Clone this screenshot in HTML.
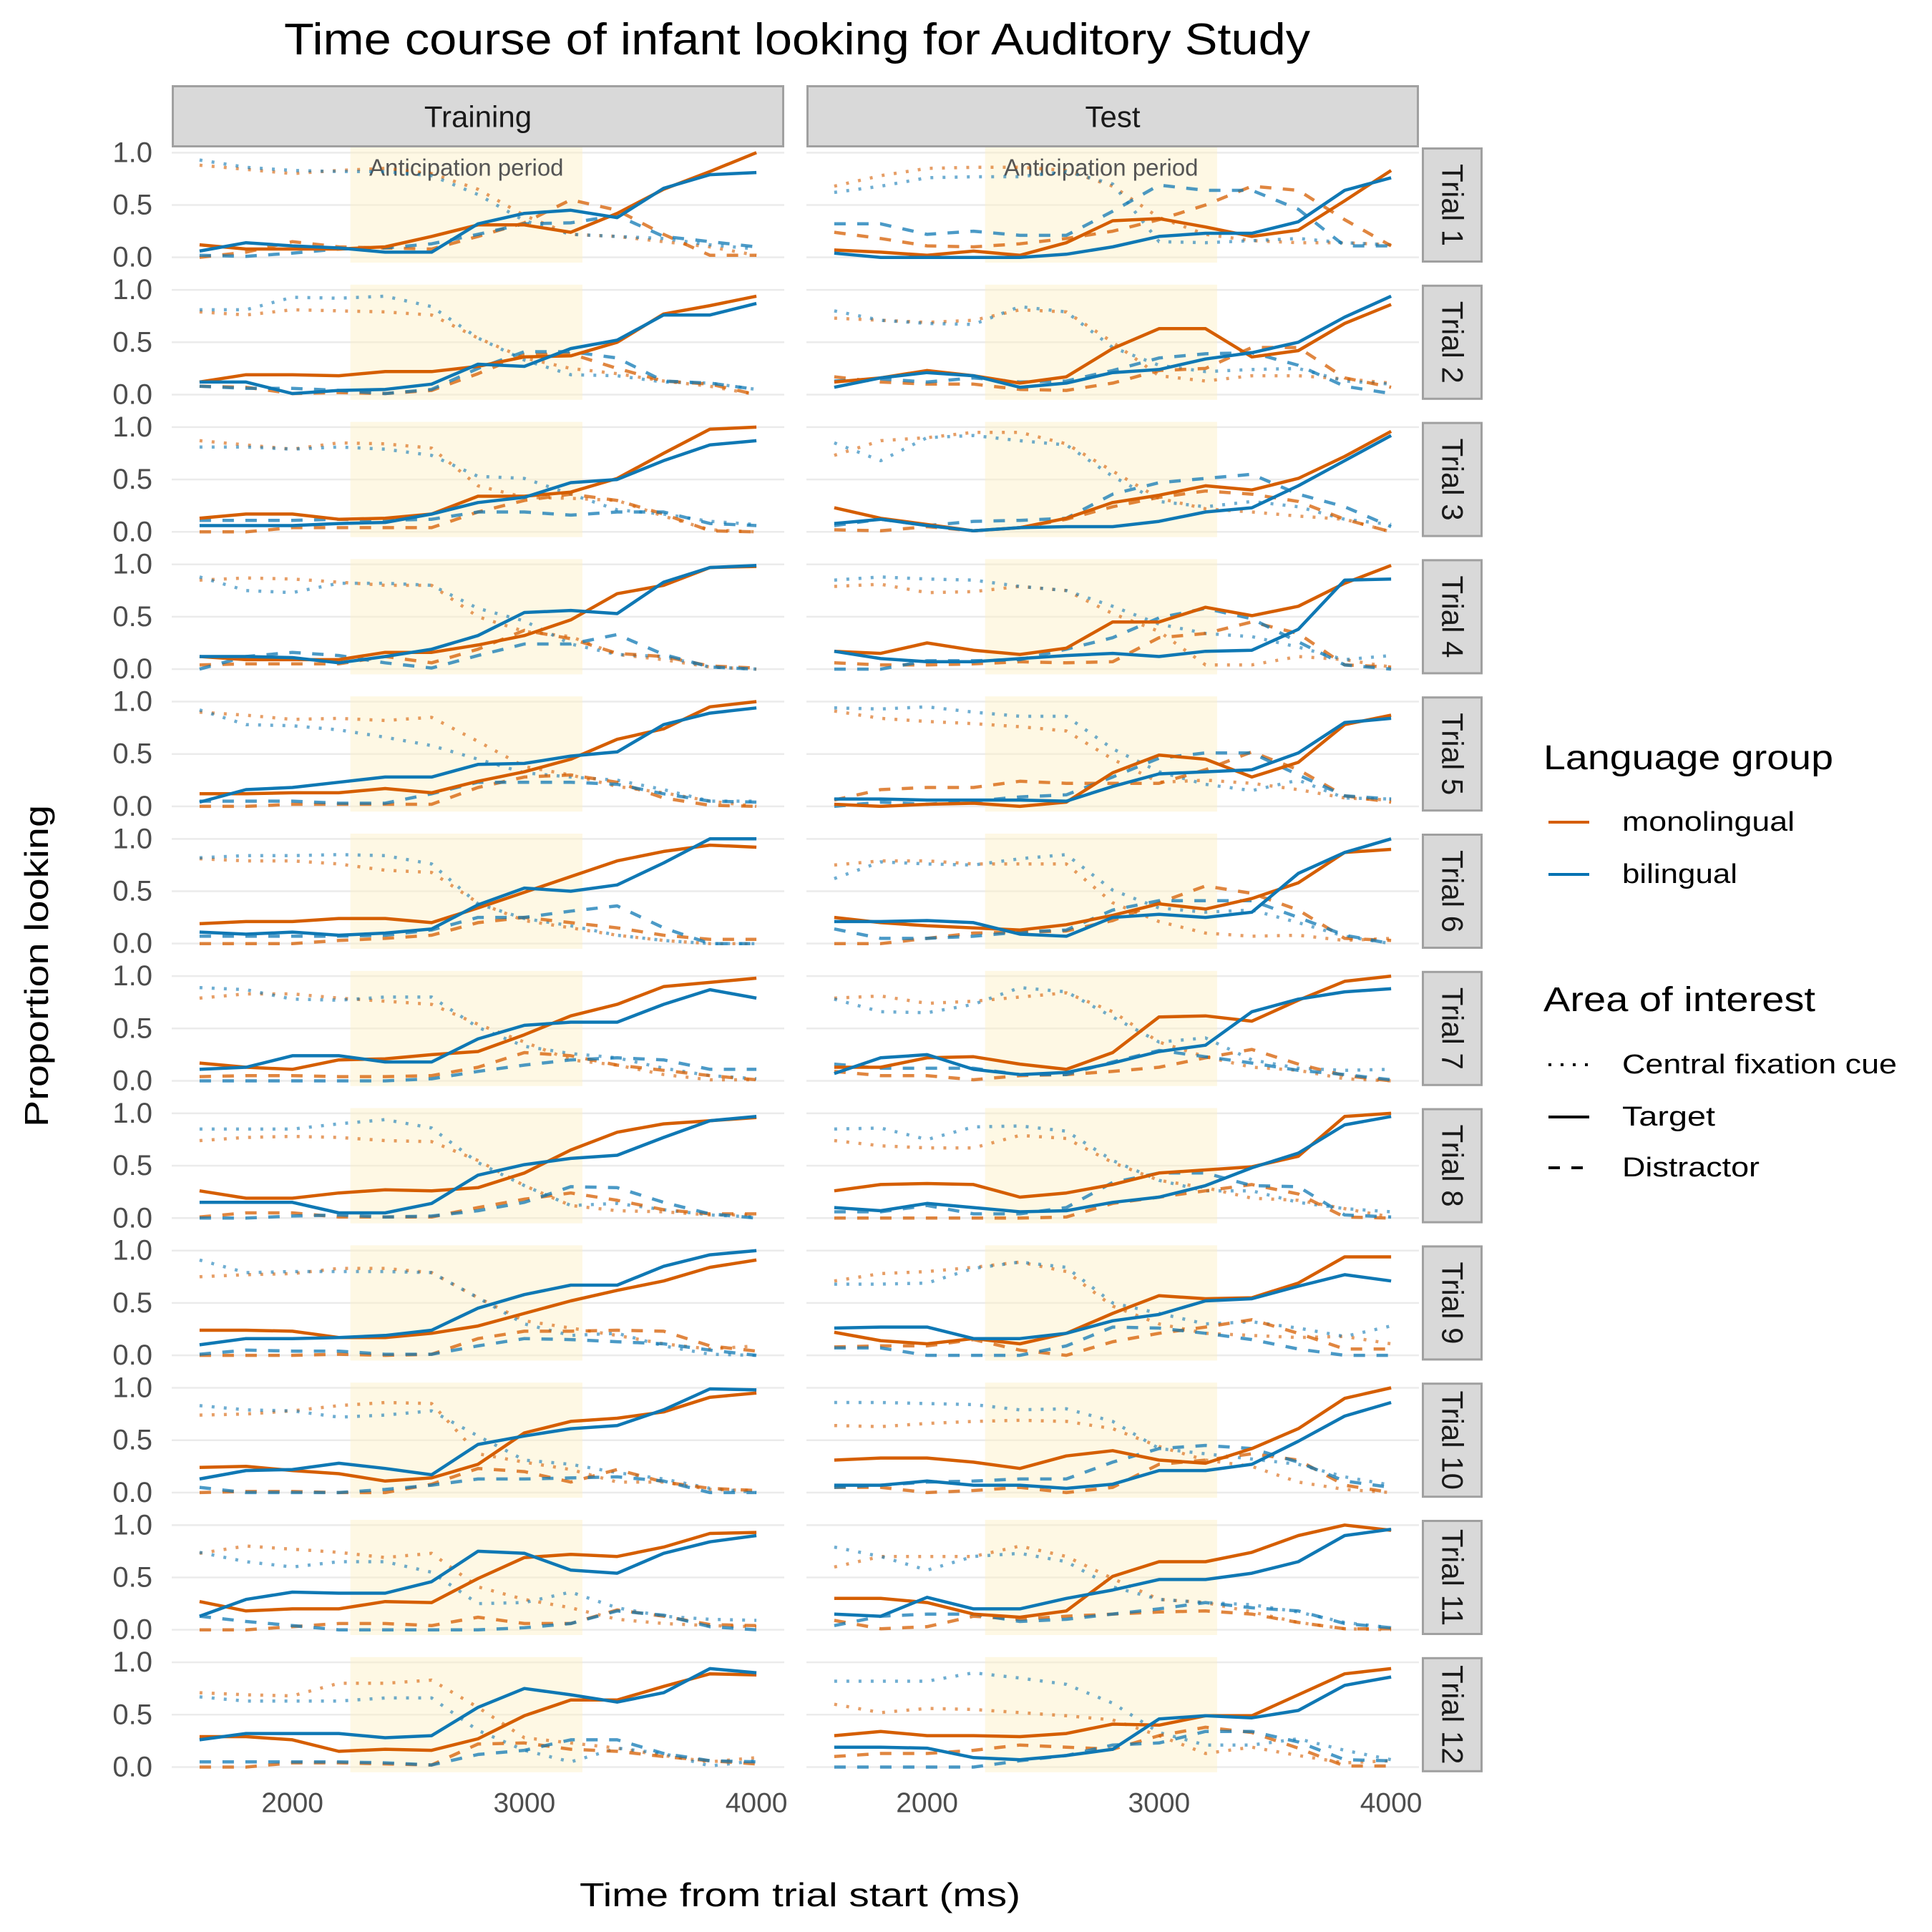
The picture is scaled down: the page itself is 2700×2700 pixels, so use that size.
<!DOCTYPE html>
<html><head><meta charset="utf-8"><title>Time course of infant looking</title>
<style>html,body{margin:0;padding:0;background:#fff}svg{display:block}</style>
</head><body>
<svg id="chart" xmlns="http://www.w3.org/2000/svg" width="2700" height="2700" viewBox="0 0 2700 2700" font-family="Liberation Sans, Arial, sans-serif">
<rect width="2700" height="2700" fill="#fff"/>
<text x="1114" y="76" font-size="62" text-anchor="middle" fill="#000" textLength="1434" lengthAdjust="spacingAndGlyphs">Time course of infant looking for Auditory Study</text>
<text transform="translate(67,1350) rotate(-90)" font-size="46" text-anchor="middle" fill="#000" textLength="450" lengthAdjust="spacingAndGlyphs">Proportion looking</text>
<text x="1118" y="2664" font-size="46" text-anchor="middle" fill="#000" textLength="616" lengthAdjust="spacingAndGlyphs">Time from trial start (ms)</text>
<g id="panels"></g>
<g>
<text x="2157" y="1075" font-size="48" fill="#000" textLength="405" lengthAdjust="spacingAndGlyphs">Language group</text>
<line x1="2164" y1="1149" x2="2221" y2="1149" stroke="#D55E00" stroke-width="4"/>
<text x="2267" y="1149" font-size="38" dominant-baseline="central" fill="#000" textLength="241" lengthAdjust="spacingAndGlyphs">monolingual</text>
<line x1="2164" y1="1222" x2="2221" y2="1222" stroke="#0072B2" stroke-width="4"/>
<text x="2267" y="1222" font-size="38" dominant-baseline="central" fill="#000" textLength="161" lengthAdjust="spacingAndGlyphs">bilingual</text>
<text x="2157" y="1413" font-size="48" fill="#000" textLength="380" lengthAdjust="spacingAndGlyphs">Area of interest</text>
<line x1="2164" y1="1488" x2="2221" y2="1488" stroke="#000" stroke-width="4" stroke-dasharray="4 13"/>
<text x="2267" y="1488" font-size="38" dominant-baseline="central" fill="#000" textLength="384" lengthAdjust="spacingAndGlyphs">Central fixation cue</text>
<line x1="2164" y1="1561" x2="2221" y2="1561" stroke="#000" stroke-width="4"/>
<text x="2267" y="1561" font-size="38" dominant-baseline="central" fill="#000" textLength="130" lengthAdjust="spacingAndGlyphs">Target</text>
<line x1="2164" y1="1632" x2="2221" y2="1632" stroke="#000" stroke-width="4" stroke-dasharray="16 16"/>
<text x="2267" y="1632" font-size="38" dominant-baseline="central" fill="#000" textLength="192" lengthAdjust="spacingAndGlyphs">Distractor</text>
</g>
</svg>
<script>
const times = [1600,1800,2000,2200,2400,2600,2800,3000,3200,3400,3600,3800,4000];
const xTicks = [2000,3000,4000];
const xTickLabels = ["2000","3000","4000"];
const yTicks = [0,0.5,1];
const yTickLabels = ["0.0","0.5","1.0"];
const phases = ["Training","Test"];
const trialLabels = ["Trial 1","Trial 2","Trial 3","Trial 4","Trial 5","Trial 6","Trial 7","Trial 8","Trial 9","Trial 10","Trial 11","Trial 12"];
const anticipationStart = 2250;
const anticipationEnd = 3250;

const trainMonoT = [
[.12,.08,.08,.08,.1,.2,.31,.31,.24,.42,.65,.82,1.0],
[.12,.19,.19,.18,.22,.22,.27,.36,.37,.5,.77,.85,.94],
[.13,.17,.17,.12,.13,.17,.34,.34,.38,.51,.75,.98,1.0],
[.12,.09,.09,.09,.16,.16,.23,.32,.47,.72,.8,.97,.98],
[.12,.12,.13,.13,.17,.13,.24,.33,.45,.64,.74,.95,1.0],
[.19,.21,.21,.24,.24,.2,.34,.49,.64,.79,.88,.94,.92],
[.17,.13,.11,.2,.21,.25,.28,.44,.62,.73,.9,.94,.98],
[.26,.19,.19,.24,.27,.26,.29,.43,.65,.82,.9,.93,.96],
[.24,.24,.23,.17,.17,.21,.28,.4,.52,.62,.71,.84,.91],
[.24,.25,.21,.18,.11,.14,.27,.57,.68,.71,.77,.91,.95],
[.27,.18,.2,.2,.27,.26,.49,.69,.72,.7,.79,.92,.93],
[.29,.29,.26,.15,.17,.16,.27,.49,.64,.64,.77,.89,.88]];
const trainBiT = [
[.06,.14,.11,.09,.05,.05,.32,.42,.45,.38,.66,.79,.81],
[.12,.12,.01,.04,.05,.1,.29,.27,.44,.52,.76,.76,.87],
[.06,.06,.06,.08,.09,.17,.28,.33,.47,.5,.68,.83,.87],
[.12,.12,.11,.06,.12,.19,.32,.54,.56,.53,.83,.97,.99],
[.04,.16,.18,.23,.28,.28,.4,.41,.48,.52,.78,.89,.94],
[.11,.09,.11,.08,.1,.14,.37,.53,.5,.56,.77,1.0,1.0],
[.11,.13,.24,.24,.18,.18,.4,.53,.56,.56,.73,.87,.79],
[.15,.15,.15,.05,.05,.14,.41,.51,.57,.6,.77,.93,.97],
[.1,.16,.16,.17,.19,.24,.45,.58,.67,.67,.85,.96,1.0],
[.13,.21,.22,.28,.23,.17,.46,.54,.61,.64,.79,.99,.98],
[.13,.29,.36,.35,.35,.46,.75,.73,.57,.54,.73,.84,.9],
[.26,.32,.32,.32,.28,.3,.57,.75,.69,.62,.71,.94,.9]];
const trainMonoD = [
[0,.05,.15,.1,.09,.08,.2,.33,.55,.45,.22,.02,.02],
[.08,.07,.01,.02,.01,.04,.2,.38,.39,.25,.13,.1,0],
[0,0,.04,.04,.04,.04,.19,.3,.36,.3,.17,.01,0],
[.04,.05,.05,.05,.12,.06,.19,.37,.29,.15,.12,.03,.01],
[0,0,.02,.02,.02,.02,.18,.28,.3,.23,.08,.01,0],
[0,0,0,.03,.05,.08,.2,.25,.2,.15,.08,.04,.04],
[.04,.05,.05,.04,.04,.05,.13,.27,.24,.15,.1,.05,.01],
[.01,.05,.05,.01,.01,.01,.1,.18,.24,.17,.08,.04,.04],
[0,0,0,.01,0,.01,.16,.23,.23,.24,.23,.09,.04],
[0,.01,.01,0,0,.08,.23,.2,.1,.22,.1,.04,.02],
[0,0,.03,.06,.06,.04,.12,.06,.06,.19,.13,.05,.04],
[0,0,.04,.04,.03,.02,.22,.23,.17,.15,.1,.06,.03]];
const trainBiD = [
[.02,.01,.04,.08,.09,.13,.22,.32,.33,.4,.2,.15,.1],
[.08,.06,.06,.04,.01,.05,.25,.41,.41,.35,.13,.11,.05],
[.11,.11,.11,.12,.11,.12,.19,.19,.16,.19,.19,.08,.06],
[0,.12,.16,.13,.06,.01,.13,.24,.24,.33,.14,.02,0],
[.05,.05,.05,.03,.03,.12,.23,.23,.23,.21,.12,.05,.04],
[.07,.07,.07,.07,.08,.13,.25,.25,.31,.36,.15,0,0],
[0,0,0,0,0,.02,.09,.15,.2,.22,.2,.11,.11],
[0,0,.02,.03,.01,.02,.07,.15,.3,.29,.15,.04,0],
[.01,.05,.04,.04,.01,.01,.09,.16,.15,.13,.11,.05,0],
[.05,0,0,0,.03,.07,.13,.13,.14,.15,.11,0,0],
[.13,.08,.04,0,0,0,0,.02,.06,.18,.14,.03,0],
[.05,.05,.05,.05,.04,.02,.12,.16,.26,.26,.13,.06,.05]];
const trainMonoC = [
[.88,.84,.8,.83,.85,.8,.65,.4,.22,.2,.15,.1,.02],
[.79,.76,.81,.8,.79,.76,.54,.35,.25,.2,.13,.08,0],
[.87,.83,.79,.85,.84,.8,.44,.33,.32,.3,.15,.02,0],
[.85,.87,.86,.83,.8,.8,.5,.36,.31,.14,.09,.02,0],
[.9,.87,.83,.84,.82,.85,.62,.38,.3,.19,.13,.05,0],
[.81,.79,.79,.76,.7,.68,.39,.22,.15,.08,.03,0,0],
[.79,.83,.83,.79,.76,.73,.54,.37,.2,.15,.06,.01,.01],
[.74,.77,.78,.77,.74,.73,.55,.31,.12,.07,.06,.03,.03],
[.75,.77,.78,.83,.83,.79,.55,.33,.26,.19,.11,.06,.09],
[.74,.75,.78,.83,.86,.85,.37,.29,.22,.1,.1,.03,.02],
[.73,.8,.77,.74,.69,.73,.41,.29,.21,.1,.06,.04,.03],
[.71,.69,.68,.8,.8,.83,.57,.28,.23,.18,.11,.05,.09]];
const trainBiC = [
[.93,.86,.83,.82,.82,.78,.6,.35,.22,.2,.18,.12,.08],
[.81,.81,.93,.92,.94,.84,.54,.33,.19,.18,.12,.11,.05],
[.81,.81,.79,.81,.79,.73,.53,.51,.36,.21,.17,.1,.07],
[.88,.75,.73,.82,.82,.8,.58,.46,.24,.14,.12,.02,0],
[.92,.78,.77,.73,.66,.58,.45,.32,.28,.25,.16,.05,.05],
[.82,.84,.84,.85,.84,.76,.38,.24,.17,.08,.03,0,0],
[.89,.87,.78,.77,.8,.8,.51,.33,.26,.22,.12,.05,.02],
[.85,.85,.85,.9,.94,.86,.53,.31,.12,.14,.08,.03,.01],
[.91,.79,.8,.8,.8,.79,.55,.3,.19,.21,.09,.01,0],
[.83,.79,.78,.72,.74,.78,.54,.31,.27,.19,.13,.04,0],
[.74,.65,.6,.65,.65,.55,.25,.26,.36,.21,.13,.1,.09],
[.67,.63,.63,.63,.66,.66,.35,.16,.05,.18,.13,.01,.06]];
const testMonoT = [
[.07,.05,.02,.06,.02,.14,.35,.37,.29,.2,.26,.54,.83],
[.12,.16,.23,.18,.11,.17,.44,.63,.63,.36,.42,.68,.86],
[.23,.13,.07,.01,.04,.13,.28,.35,.44,.4,.51,.72,.96],
[.17,.15,.25,.18,.14,.2,.45,.45,.59,.51,.6,.82,.99],
[.02,0,.02,.03,0,.04,.32,.49,.45,.28,.42,.78,.87],
[.25,.2,.17,.15,.13,.18,.27,.38,.33,.43,.58,.87,.9],
[.13,.13,.22,.23,.16,.11,.27,.61,.62,.57,.77,.95,1.0],
[.26,.32,.33,.32,.2,.24,.32,.43,.46,.49,.59,.97,1.0],
[.22,.14,.11,.16,.11,.21,.4,.57,.54,.55,.69,.94,.94],
[.31,.33,.33,.29,.23,.35,.4,.31,.28,.42,.61,.9,1.0],
[.3,.3,.26,.15,.12,.18,.51,.65,.65,.74,.9,1.0,.95],
[.3,.34,.3,.3,.29,.32,.41,.4,.49,.49,.69,.89,.94]];
const testBiT = [
[.04,0,0,0,0,.03,.1,.2,.23,.23,.34,.64,.76],
[.07,.16,.21,.18,.07,.11,.21,.24,.34,.4,.5,.74,.94],
[.08,.12,.06,.01,.04,.05,.05,.1,.19,.23,.44,.68,.92],
[.17,.1,.07,.07,.1,.13,.15,.12,.17,.18,.38,.85,.86],
[.07,.07,.06,.06,.06,.05,.19,.31,.33,.35,.51,.8,.84],
[.21,.21,.22,.2,.09,.07,.25,.28,.25,.3,.67,.87,1.0],
[.07,.22,.25,.11,.06,.08,.17,.28,.34,.66,.78,.85,.88],
[.1,.07,.14,.1,.06,.07,.15,.2,.31,.48,.62,.89,.97],
[.26,.27,.27,.16,.16,.21,.33,.39,.52,.54,.66,.77,.71],
[.07,.07,.11,.07,.07,.04,.08,.21,.21,.27,.49,.73,.86],
[.15,.13,.31,.2,.2,.3,.38,.48,.48,.54,.65,.9,.96],
[.19,.19,.18,.09,.07,.11,.17,.46,.49,.47,.54,.78,.86]];
const testMonoD = [
[.24,.18,.11,.1,.13,.18,.25,.36,.5,.68,.64,.36,.11],
[.17,.12,.1,.1,.05,.04,.11,.23,.25,.45,.45,.16,.07],
[.02,.01,.05,.01,.04,.12,.24,.33,.39,.36,.29,.12,0],
[.06,.04,.04,.05,.07,.06,.07,.3,.34,.45,.34,.04,.02],
[.06,.16,.18,.18,.24,.22,.22,.22,.35,.52,.35,.1,.04],
[0,0,.05,.1,.11,.12,.22,.39,.55,.48,.32,.05,.03],
[.09,.05,.05,.01,.05,.06,.09,.13,.22,.3,.16,.05,0],
[0,0,0,0,0,.01,.14,.2,.26,.32,.23,.01,0],
[.08,.09,.09,.15,.05,0,.13,.21,.27,.34,.21,.06,.06],
[.05,.05,0,.02,.05,0,.05,.27,.31,.37,.31,.07,0],
[.09,.01,.03,.13,.1,.13,.15,.17,.18,.15,.07,.01,.01],
[.1,.13,.13,.16,.21,.19,.17,.3,.38,.33,.18,.01,.01]];
const testBiD = [
[.32,.32,.22,.25,.21,.21,.44,.69,.64,.64,.46,.11,.11],
[.13,.15,.12,.16,.12,.13,.23,.35,.39,.4,.28,.08,.01],
[.06,.12,.06,.1,.11,.13,.36,.47,.51,.55,.36,.24,.05],
[0,0,.08,.08,.09,.19,.3,.49,.58,.48,.26,.04,0],
[0,.04,.02,.05,.09,.11,.28,.46,.51,.51,.3,.1,.07],
[.14,.05,.05,.07,.11,.13,.32,.41,.41,.41,.25,.08,0],
[.16,.12,.12,.12,.06,.06,.18,.29,.23,.17,.1,.06,.01],
[.06,.06,.12,.04,.04,.1,.34,.43,.43,.31,.3,.03,.01],
[.07,.07,0,0,0,.09,.27,.26,.21,.15,.06,0,0],
[.05,.07,.1,.11,.13,.13,.29,.42,.45,.42,.29,.11,.05],
[.04,.13,.15,.15,.08,.1,.15,.2,.26,.21,.18,.06,.02],
[0,0,0,0,.06,.11,.21,.23,.34,.34,.24,.07,.06]];
const testMonoC = [
[.68,.78,.85,.86,.86,.83,.68,.38,.22,.16,.14,.14,.12],
[.73,.71,.69,.71,.81,.79,.5,.18,.13,.18,.18,.15,.11],
[.73,.87,.9,.95,.95,.84,.58,.32,.22,.19,.15,.12,0],
[.79,.81,.73,.74,.79,.75,.53,.36,.04,.04,.12,.09,.02],
[.91,.84,.81,.79,.76,.72,.45,.23,.25,.22,.16,.08,.06],
[.75,.79,.79,.76,.76,.76,.39,.21,.1,.07,.08,.03,.05],
[.79,.81,.74,.76,.8,.84,.66,.37,.23,.13,.1,.02,0],
[.74,.69,.67,.67,.79,.76,.53,.36,.29,.19,.17,.09,.01],
[.71,.78,.8,.84,.89,.8,.47,.3,.21,.19,.17,.18,.11],
[.64,.63,.66,.68,.69,.68,.61,.44,.31,.25,.1,.03,0],
[.6,.7,.7,.7,.8,.7,.49,.29,.26,.17,.07,.01,0],
[.6,.52,.56,.55,.52,.49,.45,.3,.13,.19,.11,.04,.06]];
const testBiC = [
[.62,.68,.76,.77,.77,.82,.7,.15,.14,.16,.18,.14,.12],
[.8,.71,.68,.67,.84,.79,.45,.28,.22,.24,.25,.13,.1],
[.85,.68,.9,.92,.87,.83,.53,.29,.24,.29,.24,.12,.07],
[.85,.88,.86,.85,.79,.75,.6,.43,.34,.31,.21,.09,.13],
[.94,.93,.95,.9,.86,.86,.55,.33,.21,.15,.25,.08,.07],
[.62,.78,.76,.75,.81,.85,.51,.34,.3,.32,.2,.07,0],
[.78,.66,.65,.73,.89,.85,.61,.37,.41,.2,.12,.1,.11],
[.85,.86,.75,.87,.88,.83,.55,.36,.26,.26,.15,.09,.06],
[.68,.68,.69,.83,.89,.84,.5,.4,.3,.32,.26,.18,.28],
[.86,.86,.85,.84,.79,.8,.68,.42,.37,.32,.27,.15,.07],
[.79,.7,.57,.7,.73,.65,.41,.29,.26,.24,.17,.07,.02],
[.82,.82,.82,.9,.85,.79,.61,.33,.21,.21,.27,.16,.07]];

const NS = "http://www.w3.org/2000/svg";
const colLeft = [240, 1127];
const panelW = 856, panelTop0 = 206, rowPitch = 191.8, panelH = 161;
const xMin = 1480, xMax = 4120, yMin = -0.05, yMax = 1.05;
function xScale(col, ms){ return colLeft[col] + (ms - xMin) / (xMax - xMin) * panelW; }
function yScale(row, v){ return panelTop0 + row * rowPitch + (yMax - v) / (yMax - yMin) * panelH; }
function mk(tag, attrs, parent){ const e = document.createElementNS(NS, tag); for (const k in attrs) e.setAttribute(k, attrs[k]); parent.appendChild(e); return e; }

const root = document.getElementById('panels');
const ORANGE = "#D55E00", BLUE = "#0F78B4";

phases.forEach((p, c) => {
  const g = mk('g', {}, root);
  
  
  mk('rect', {x: colLeft[c] + 1.5, y: 120.5, width: panelW - 3, height: 84, fill: '#d9d9d9', stroke: '#a0a0a0', 'stroke-width': 3}, g);
  const t = mk('text', {x: colLeft[c] + panelW / 2, y: 163, 'font-size': 42, 'text-anchor': 'middle', 'dominant-baseline': 'central', fill: '#1a1a1a'}, g);
  t.textContent = p;
});

const seriesDefs = [
  {name: 'mono-cue', train: trainMonoC, test: testMonoC, color: ORANGE, dash: '4 13', op: 0.6},
  {name: 'bi-cue', train: trainBiC, test: testBiC, color: BLUE, dash: '4 13', op: 0.6},
  {name: 'mono-distractor', train: trainMonoD, test: testMonoD, color: ORANGE, dash: '16 16', op: 0.75},
  {name: 'bi-distractor', train: trainBiD, test: testBiD, color: BLUE, dash: '16 16', op: 0.75},
  {name: 'mono-target', train: trainMonoT, test: testMonoT, color: ORANGE, dash: null, op: 1},
  {name: 'bi-target', train: trainBiT, test: testBiT, color: BLUE, dash: null, op: 1}
];

for (let r = 0; r < trialLabels.length; r++) {
  const top = panelTop0 + r * rowPitch;
  for (let c = 0; c < 2; c++) {
    const g = mk('g', {}, root);
    
    
    yTicks.forEach(v => {
      const gl = mk('line', {x1: colLeft[c], x2: colLeft[c] + panelW, y1: yScale(r, v), y2: yScale(r, v), stroke: '#ebebeb', 'stroke-width': 2.5}, g);
      
      
    });
    const band = mk('rect', {x: xScale(c, anticipationStart), y: top, width: xScale(c, anticipationEnd) - xScale(c, anticipationStart), height: panelH, fill: '#fdefc4', opacity: 0.45}, g);
    
    
    if (r === 0) {
      const at = mk('text', {x: (xScale(c, anticipationStart) + xScale(c, anticipationEnd)) / 2, y: 234, 'font-size': 33, 'text-anchor': 'middle', 'dominant-baseline': 'central', fill: '#555'}, g);
      at.textContent = 'Anticipation period';
      
      
    }
    seriesDefs.forEach(s => {
      const vals = (c === 0 ? s.train : s.test)[r];
      const pts = vals.map((v, i) => xScale(c, times[i]).toFixed(1) + ',' + yScale(r, v).toFixed(1)).join(' ');
      const attrs = {points: pts, fill: 'none', stroke: s.color, 'stroke-width': 4.5, 'stroke-linejoin': 'round', opacity: s.op};
      if (s.dash) attrs['stroke-dasharray'] = s.dash;
      const pl = mk('polyline', attrs, g);
      
      
    });
    if (c === 0) {
      yTicks.forEach((v, i) => {
        const tl = mk('text', {x: 213, y: yScale(r, v), 'font-size': 40, 'text-anchor': 'end', 'dominant-baseline': 'central', fill: '#4d4d4d'}, g);
        tl.textContent = yTickLabels[i];
        
        
      });
    }
  }
  const sg = mk('g', {}, root);
  
  
  mk('rect', {x: 1988.5, y: top + 1.5, width: 82, height: panelH - 3, fill: '#d9d9d9', stroke: '#a0a0a0', 'stroke-width': 3}, sg);
  const st = mk('text', {transform: 'translate(2030,' + (top + panelH / 2) + ') rotate(90)', 'font-size': 42, 'text-anchor': 'middle', 'dominant-baseline': 'central', fill: '#1a1a1a'}, sg);
  st.textContent = trialLabels[r];
}
for (let c = 0; c < 2; c++) {
  xTicks.forEach((t, i) => {
    const xl = mk('text', {x: xScale(c, t), y: 2520, 'font-size': 39, 'text-anchor': 'middle', 'dominant-baseline': 'central', fill: '#4d4d4d'}, root);
    xl.textContent = xTickLabels[i];
    
    
  });
}
</script>
</body></html>
